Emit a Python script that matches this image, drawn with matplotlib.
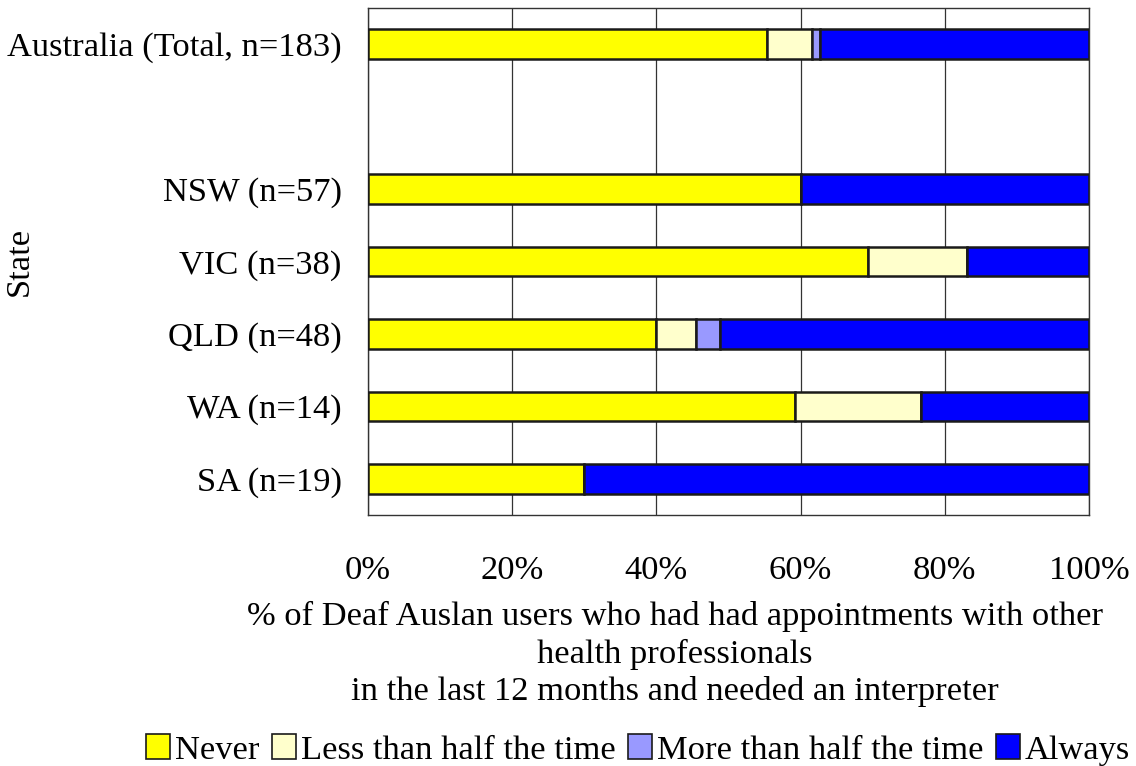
import matplotlib
matplotlib.use("Agg")
import matplotlib.pyplot as plt
from matplotlib.patches import Patch

plt.rcParams['font.family'] = ['Liberation Serif', 'DejaVu Serif']

states = ["Australia (Total, n=183)", "", "NSW (n=57)", "VIC (n=38)",
          "QLD (n=48)", "WA (n=14)", "SA (n=19)"]
never = [55.4, 0, 60.0, 69.3, 40.0, 59.2, 30.0]
less_half = [6.2, 0, 0.0, 13.8, 5.5, 17.5, 0.0]
more_half = [1.1, 0, 0.0, 0.0, 3.3, 0.0, 0.0]
always = [37.3, 0, 40.0, 16.9, 51.2, 23.3, 70.0]

series = [
    ("Never", never, "#ffff00"),
    ("Less than half the time", less_half, "#ffffcc"),
    ("More than half the time", more_half, "#9999ff"),
    ("Always", always, "#0000ff"),
]
xticks = [0, 20, 40, 60, 80, 100]

W, H = 1136, 766
FS = 24.8
fig = plt.figure(figsize=(W / 100, H / 100), dpi=100)
ax = fig.add_axes([368 / W, 1 - 515 / H, (1089 - 368) / W, (515 - 8) / H])

ypos = list(range(len(states)))
left = [0.0] * len(states)
for name, vals, color in series:
    draw_y = [y for y, s in zip(ypos, states) if s]
    draw_v = [v for v, s in zip(vals, states) if s]
    draw_l = [l for l, s in zip(left, states) if s]
    ax.barh(draw_y, draw_v, left=draw_l, height=0.41, color=color,
            edgecolor="#1a1a1a", linewidth=1.8, zorder=3)
    left = [l + v for l, v in zip(left, vals)]

ax.set_xlim(0, 100)
ax.set_ylim(6.5, -0.5)
ax.set_yticks(ypos)
ax.set_yticklabels(states, fontsize=FS)
ax.set_xticks(xticks)
ax.set_xticklabels([f"{t}%" for t in xticks], fontsize=FS)
ax.tick_params(axis="both", length=0)
ax.tick_params(axis="x", pad=29)
ax.tick_params(axis="y", pad=19)
ax.grid(axis="x", color="#333333", linewidth=0.9, zorder=0)
for sp in ax.spines.values():
    sp.set_color("#333333")
    sp.set_linewidth(1.0)

ax.set_ylabel("State", fontsize=FS, labelpad=0)
ax.yaxis.set_label_coords(-333 / (1089 - 368), 0.5)

fig.text(675 / W, 1 - 654 / H,
         "% of Deaf Auslan users who had had appointments with other\n"
         "health professionals\n"
         "in the last 12 months and needed an interpreter",
         ha="center", va="center", fontsize=FS, linespacing=1.27)

handles = [Patch(facecolor=c, edgecolor="#1a1a1a", linewidth=1.2, label=n)
           for n, _, c in series]
fig.legend(handles=handles, loc="center", bbox_to_anchor=(638 / W, 1 - 750 / H),
           ncol=4, frameon=False, fontsize=FS, handlelength=0.7,
           handleheight=0.7, handletextpad=0.15, columnspacing=0.35,
           borderaxespad=0, borderpad=0)

fig.savefig("out.png", dpi=100)
